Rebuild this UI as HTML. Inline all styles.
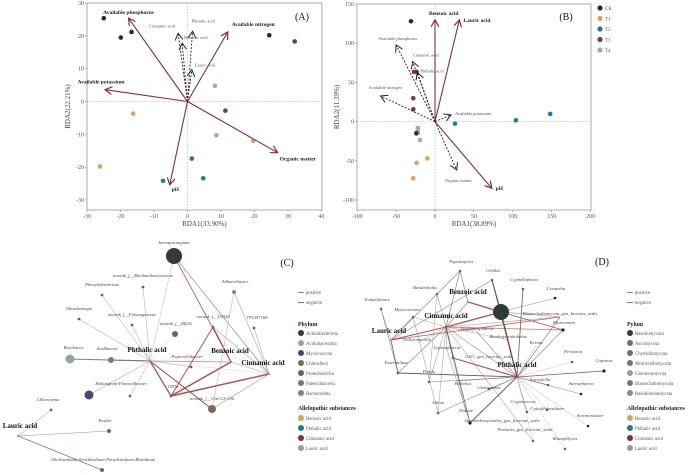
<!DOCTYPE html>
<html><head><meta charset="utf-8"><style>
html,body{margin:0;padding:0;background:#fff;}
svg{display:block;font-family:"Liberation Serif",serif;}
</style></head><body>
<svg id="fig" width="692" height="475" viewBox="0 0 692 475">
<defs>
<marker id="arR" markerWidth="8" markerHeight="8" refX="7" refY="4" orient="auto" markerUnits="userSpaceOnUse"><path d="M0,0 L7,4 L0,8" fill="none" stroke="#8b2a3a" stroke-width="1.2"/></marker>
<marker id="arK" markerWidth="8" markerHeight="8" refX="7" refY="4" orient="auto" markerUnits="userSpaceOnUse"><path d="M0,0 L7,4 L0,8" fill="none" stroke="#222" stroke-width="1"/></marker>
</defs>
<g id="gA"></g>
<g id="gB"></g>
<g id="gC"></g>
<g id="gD"></g>
</svg>
<script>
// ---------- Panel A data ----------
const aXTicks=[-30,-20,-10,0,10,20,30,40];
const aYTicks=[-30,-20,-10,0,10,20,30];
const aPtX=[-25,-19.9,-16.7,24.4,32,8.2,11.3,-16.2,8.6,19.6,-26.1,1.3,-7.3,4.7];
const aPtY=[25.4,19.5,21.2,20.2,18.3,4.8,-2.8,-3.7,-10.3,-12,-19.8,-17.4,-24.2,-23.4];
const aPtG=["CK","CK","CK","CK","T3","T4","T3","T1","T4","T1","T1","T2","T2","T2"];
const aEnvNames=["Available phosphorus","Available nitrogen","Available potassium","Organic matter","pH"];
const aEnvX=[-17.6,12,-24.6,26.9,-5.3];
const aEnvY=[25.4,21.2,3.6,-15.6,-25.4];
const aAcidNames=["Cinnamic acid","Phthalic acid","Benzoic acid","Lauric acid"];
const aAcidX=[-2.8,1.5,-1.6,1.3];
const aAcidY=[20.8,21.4,17.8,9.7];
// ---------- Panel B data ----------
const bXTicks=[-100,-50,0,50,100,150,200];
const bYTicks=[-100,-50,0,50,100,150];
const bPtX=[-30.9,-27,-23.6,-27.9,-27.9,25.7,104,148,-22,-22,-22,-24,-19.3,-9.9,-23.6,-27.9];
const bPtY=[128,63.4,63.4,29.8,15.7,-2.6,1.7,9.8,-8,-11,-14,-15,-23.4,-47,-52.7,-72.3];
const bPtG=["CK","T3","T3","T3","T3","T2","T2","T2","T4","T4","T4","CK","T4","T1","T1","T1"];
const bAcidNames=["Benzoic acid","Lauric acid","pH"];
const bAcidX=[0,31.3,72.9];
const bAcidY=[129.7,129.7,-85];
const bEnvNames=["Available phosphorus","Cinnamic acid","Phthalic acid","Available nitrogen","Available potassium","Organic matter"];
const bEnvX=[-50,-28.7,-22.7,-70,20.6,27.9];
const bEnvY=[97.8,76.5,62.5,32.7,8.5,-61.7];
const groups=["CK","T1","T2","T3","T4"];
const groupColors=["#2b2b2b","#d9a35f","#1f7a9e","#7a3b3b","#9fb0a0"];

const NS="http://www.w3.org/2000/svg";
function mk(parent,tag,attrs,text){const e=document.createElementNS(NS,tag);for(const k in attrs)e.setAttribute(k,attrs[k]);if(text!==undefined)e.textContent=text;parent.appendChild(e);return e;}
function gcol(g){return groupColors[groups.indexOf(g)];}

const xA=v=>187.5+v*3.35, yA=v=>101.5-v*3.28;
const xB=v=>435+v*0.778, yB=v=>121.6-v*0.784;

function drawFrame(g,x0,y0,x1,y1,xs,ys,xt,yt,xf,yf,xlab,ylab,ylx,panel){
  let r=mk(g,'rect',{x:x0,y:y0,width:x1-x0,height:y1-y0,fill:'none',stroke:'#888','stroke-width':0.7});
  
  
  let h=mk(g,'line',{x1:x0,x2:x1,y1:yf(0),y2:yf(0),stroke:'#999','stroke-width':0.5,'stroke-dasharray':'1.5,1.5'});
  
  
  let v=mk(g,'line',{x1:xf(0),x2:xf(0),y1:y0,y2:y1,stroke:'#999','stroke-width':0.5,'stroke-dasharray':'1.5,1.5'});
  
  
  xt.forEach(t=>{const X=xf(t);mk(g,'line',{x1:X,x2:X,y1:y1,y2:y1+2,stroke:'#888','stroke-width':0.6});
    let tl=mk(g,'text',{x:X,y:y1+8,'font-size':6,fill:'#555','text-anchor':'middle'},String(t));
    
    });
  yt.forEach(t=>{const Y=yf(t);mk(g,'line',{x1:x0-2,x2:x0,y1:Y,y2:Y,stroke:'#888','stroke-width':0.6});
    let tl=mk(g,'text',{x:x0-3,y:Y+2,'font-size':6,fill:'#555','text-anchor':'end'},String(t));
    
    });
  let xl=mk(g,'text',{x:(x0+x1)/2,y:y1+16,'font-size':7,fill:'#444','text-anchor':'middle'},xlab);
  
  
  let yl=mk(g,'text',{x:ylx,y:(y0+y1)/2,'font-size':7,fill:'#444','text-anchor':'middle',transform:`rotate(-90 ${ylx} ${(y0+y1)/2})`},ylab);
  
  
}
function arrow(g,x1,y1,x2,y2,dashed,name){
  const l=mk(g,'line',{x1,y1,x2,y2,stroke:dashed?'#222':'#8b2a3a','stroke-width':dashed?0.9:1.1,'stroke-dasharray':dashed?'2,1.5':'none','marker-end':dashed?'url(#arK)':'url(#arR)'});
  
  
}
(function(){
  const g=document.getElementById('gA');
  drawFrame(g,87,3,322,210,0,0,aXTicks,aYTicks,xA,yA,'RDA1(33.90%)','RDA2(22.21%)',70);
  aPtX.forEach((v,i)=>{const c=mk(g,'circle',{cx:xA(v),cy:yA(aPtY[i]),r:2.3,fill:gcol(aPtG[i])});
    
    });
  const lab=[[0,-4,'middle'],[4,-6,'start'],[-4,-6,'middle'],[2,8,'start'],[2,6,'start']];
  aEnvNames.forEach((n,i)=>{arrow(g,xA(0),yA(0),xA(aEnvX[i]),yA(aEnvY[i]),false,'env-arrow');
    const t=mk(g,'text',{x:xA(aEnvX[i])+lab[i][0],y:yA(aEnvY[i])+lab[i][1],'font-size':5.5,'font-weight':'bold',fill:'#222','text-anchor':lab[i][2]},n);
    
    });
  const al=[[-3,-6,'end'],[-1,-9,'start'],[2,-4,'start'],[3,-3,'start']];
  aAcidNames.forEach((n,i)=>{arrow(g,xA(0),yA(0),xA(aAcidX[i]),yA(aAcidY[i]),true,'acid-arrow');
    const t=mk(g,'text',{x:xA(aAcidX[i])+al[i][0],y:yA(aAcidY[i])+al[i][1],'font-size':4.5,fill:'#555','text-anchor':al[i][2]},n);
    
    });
  const p=mk(g,'text',{x:302,y:20,'font-size':10,fill:'#111','text-anchor':'middle'},'(A)');
  
  
})();
(function(){
  const g=document.getElementById('gB');
  drawFrame(g,357,4,591,210,0,0,bXTicks,bYTicks,xB,yB,'RDA1(38.89%)','RDA2(11.39%)',339);
  bPtX.forEach((v,i)=>{const c=mk(g,'circle',{cx:xB(v),cy:yB(bPtY[i]),r:2.3,fill:gcol(bPtG[i])});
    
    });
  const lab=[[-6,-5,'start'],[4,2,'start'],[4,2,'start']];
  bAcidNames.forEach((n,i)=>{arrow(g,xB(0),yB(0),xB(bAcidX[i]),yB(bAcidY[i]),false,'acid-arrow');
    const t=mk(g,'text',{x:xB(bAcidX[i])+lab[i][0],y:yB(bAcidY[i])+lab[i][1],'font-size':5.5,'font-weight':'bold',fill:'#222','text-anchor':lab[i][2]},n);
    
    });
  const el=[[-18,-5,'start'],[0,-5,'start'],[3,0,'start'],[-12,-7,'start'],[4,0,'start'],[-12,12,'start']];
  bEnvNames.forEach((n,i)=>{arrow(g,xB(0),yB(0),xB(bEnvX[i]),yB(bEnvY[i]),true,'env-arrow');
    const t=mk(g,'text',{x:xB(bEnvX[i])+el[i][0],y:yB(bEnvY[i])+el[i][1],'font-size':4.5,fill:'#555','text-anchor':el[i][2]},n);
    
    });
  groups.forEach((n,i)=>{const c=mk(g,'circle',{cx:600,cy:8+i*10.5,r:2.6,fill:groupColors[i]});
    
    
    const t=mk(g,'text',{x:605,y:10+i*10.5,'font-size':5,fill:'#555'},n);
    
    });
  const p=mk(g,'text',{x:566,y:20,'font-size':10,fill:'#111','text-anchor':'middle'},'(B)');
  
  
})();
const cNodes=[
["Intrasporangium",174,256,8,"#2f3a3a",0,-12,0],
["Phthalic acid",150,361,1,"#888",-3,-9,1],
["Benzoic acid",231,362,1,"#888",-1,-9,1],
["Cinnamic acid",269,374,1,"#888",-6,-9,1],
["Lauric acid",18,436,1,"#888",2,-8,1],
["Bryobacter",70,359,4.5,"#8fa89a",4,-10,0],
["Acidibacter",111,360,3,"#8a7a60",-4,-10,0],
["Haliangium-Flavisolibacter",89,395,4.5,"#4a4676",32,-10,0],
["norank_f__Rhodanobacteraceae",143,287,1.4,"#666",0,-10,0],
["Phenylobacterium",102,295,1.4,"#666",0,-9,0],
["Ohtaekwangia",79,319,1.4,"#666",0,-9,0],
["norank_f__Polyangiaceae",132,325,1.4,"#666",0,-9,0],
["norank_f__Blfi41",175,334,3,"#666",1,-9,0],
["norank_f__LWQ8",213,327,1.4,"#666",0,-9,0],
["Adhaeribacter",234,292,2,"#888",1,-9,0],
["TFCH7168",254,328,1.4,"#666",3,-9,0],
["Pajaroellobacter",191,367,1.4,"#666",-4,-9,0],
["TM7a",171,396,1.4,"#666",2,-8,0],
["",130,396,1.4,"#666",0,0,0],
["norank_f__Gitt-GS-136",212,409,4,"#7a6a5a",0,-9,0],
["Chloronema",51,410,1.4,"#666",-3,-9,0],
["Ensifer",109,431,2,"#666",-4,-9,0],
["Allorhizobium-Neorhizobium-Pararhizobium-Rhizobium",102,470,2,"#666",1,-9,0]];
const cEdges=[[1,5,"#666",1],[1,6,"#777",1],[1,7,"#8a9",0.6],[1,8,"#aaa",0.6],[1,9,"#aaa",0.6],[1,10,"#aaa",0.6],[1,11,"#aaa",0.6],[1,0,"#bbb",0.6],[1,16,"#aaa",0.6],[1,18,"#aaa",0.6],[1,3,"#bdd",0.6],[1,17,"#a33",1.3],[1,19,"#733",1],[1,12,"#bbb",0.5],
[0,2,"#b44",0.9],[0,3,"#888",0.8],[2,17,"#a33",1.5],[1,2,"#c66",0.8],[13,2,"#a33",1],[13,17,"#a33",1],[17,3,"#a33",1.5],[13,3,"#999",0.6],[14,3,"#999",0.6],[14,19,"#aaa",0.6],[15,3,"#999",0.6],[3,19,"#999",0.7],[2,3,"#c77",0.5],
[4,20,"#aaa",0.6],[4,21,"#b66",0.6],[4,22,"#7a5a5a",0.8]];
const cPhyla=["Actinobacteriota","Acidobacteriota","Myxococcota","Chloroflexi","Proteobacteria","Patescibacteria","Bacteroidota"];
const cPhylaCol=["#2f3a3a","#8fa89a","#4a4676","#6e6e64","#6f6260","#7e7278","#8a8080"];
const acidLeg=["Benzoic acid","Phthalic acid","Cinnamic acid","Lauric acid"];
const acidLegCol=["#d9a35f","#1f7a9e","#8b2a3a","#9a9a9a"];
const dNodes=[
["",501,312,8,"#2f3a3a",0,0,0],
["Cinnamic acid",446,327,1,"#a33",0,-9,1],
["Benzoic acid",468,302,1,"#888",0,-8,1],
["Lauric acid",391,340,1,"#888",-2,-7,1],
["Phthalic acid",517,377,1,"#a33",0,-10,1],
["Papulaspora",460,271,1.3,"#666",1,-8,0],
["Orbilia",492,280,1.3,"#666",1,-8,0],
["Cyphellophora",523,289,1.3,"#666",1,-8,0],
["Ceratobia",555,298,1.3,"#222",1,-8,0],
["Basidiobolus",437,294,1.3,"#666",-12,-5,0],
["Fumeliformis",381,309,1.3,"#666",-4,-8,0],
["Myriococcum",413,317,1.3,"#666",-6,-6,0],
["Blastocladiomycota_gen_Incertae_sedis",560,317,0.1,"#666",0,-2,0],
["Rhizoctonia",563,330,1.6,"#222",1,-6,0],
["Stephanosphaeria",477,332,0.1,"#666",0,-2,0],
["Rhodosporidiobolus",508,340,0.1,"#666",0,-2,0],
["Dohytomycella",417,343,0.1,"#666",0,-2,0],
["Kernia",536,346,0.1,"#666",0,-2,0],
["Leptosphaeria",447,350,0.1,"#666",0,-1,0],
["GS11_gen_Incertae_sedis",453,358,1.3,"#666",36,0,0],
["Periconia",572,362,1.3,"#666",1,-9,0],
["Coprinus",604,371,1.6,"#222",0,-9,0],
["Exserohilum",398,373,1.3,"#666",-2,-9,0],
["Podila",429,382,1.3,"#666",0,-9,0],
["Auriculella",548,385,1.3,"#666",-8,-4,0],
["Aureophaeria",581,394,1.3,"#222",0,-9,0],
["Bolbitius",457,381,0.1,"#666",6,4,0],
["Chaetomium",489,389,1.3,"#666",0,0,0],
["Allioia",438,413,1.3,"#666",0,-9,0],
["Cryptococcus",527,412,1.3,"#666",-4,-9,0],
["Cystofilobasidium",547,410,1.3,"#666",0,0,0],
["Acremoniaster",588,426,1.3,"#222",2,-9,0],
["Elsinoe",466,413,0.1,"#666",0,-1,0],
["Sporobolomycetales_gen_Incertae_sedis",470,423,1.6,"#222",32,-1,0],
["Pezizales_gen_Incertae_sedis",533,441,1.3,"#666",-8,-10,0],
["Rhizophlyctis",565,449,1.3,"#666",0,-9,0]];
const dEdges=[[1,3,"#a33",1],[1,0,"#a33",1.4],[1,2,"#777",0.7],[1,5,"#777",0.7],[1,9,"#888",0.6],[1,11,"#999",0.6],[1,13,"#c55",0.8],[1,12,"#c77",0.6],[1,14,"#999",0.5],[1,15,"#aaa",0.5],[1,18,"#888",0.5],[1,19,"#733",0.8],[1,22,"#777",0.7],[1,23,"#999",0.6],[1,28,"#999",0.6],[1,32,"#888",0.6],[1,33,"#555",0.8],[1,34,"#999",0.6],[1,4,"#c66",0.6],[1,16,"#c88",0.5],
[2,0,"#a33",1.4],[6,0,"#733",1],[6,4,"#555",0.9],[7,4,"#555",0.9],[0,4,"#733",1.2],[0,8,"#888",0.6],[0,13,"#a33",0.8],[0,12,"#888",0.6],[5,3,"#777",0.7],[5,2,"#777",0.7],[6,3,"#777",0.7],[3,10,"#999",0.6],[3,22,"#555",0.8],[3,12,"#b44",0.8],[3,11,"#888",0.6],
[4,13,"#777",0.7],[4,12,"#777",0.7],[4,20,"#bbb",0.5],[4,21,"#733",0.8],[4,22,"#444",0.9],[4,23,"#777",0.6],[4,24,"#a33",0.6],[4,25,"#a66",0.6],[4,19,"#a33",1.1],[4,26,"#a66",0.6],[4,27,"#a77",0.6],[4,28,"#777",0.6],[4,29,"#a66",0.6],[4,30,"#aaa",0.5],[4,31,"#aaa",0.5],[4,33,"#444",1],[4,34,"#bbb",0.5],[4,35,"#bbb",0.5],[4,17,"#999",0.5],[4,14,"#777",0.6],[10,22,"#777",0.6],[9,23,"#999",0.6],[11,28,"#999",0.6],[18,33,"#999",0.6]];
const dPhyla=["Basidiomycota","Ascomycota","Chytridiomycota","Mortierellomycota","Glomeromycota","Blastocladiomycota","Basidiobolomycota"];
const dPhylaCol=["#2f3a3a","#6a6a80","#6e6e6a","#7a7470","#9a9a9a","#777","#8a8a8a"];

function drawNet(gid,nodes,edges,panel,px,py,lx,phTitle,phyla,phCol){
  const g=document.getElementById(gid);
  edges.forEach(e=>{const a=nodes[e[0]],b=nodes[e[1]];
    const l=mk(g,'line',{x1:a[1],y1:a[2],x2:b[1],y2:b[2],stroke:e[2],'stroke-width':e[3],'stroke-opacity':0.85});
    
    });
  nodes.forEach(n=>{
    if(n[3]>0.5){const c=mk(g,'circle',{cx:n[1],cy:n[2],r:n[3],fill:n[4]});
      
      }
    if(n[0]){const bold=n[7]===1;
      const t=mk(g,'text',{x:n[1]+n[5],y:n[2]+n[6],'font-size':bold?7:4.6,'font-weight':bold?'bold':'normal','font-style':bold?'normal':'italic',fill:bold?'#111':'#444','text-anchor':'middle'},n[0]);
      
      }
  });
  const p=mk(g,'text',{x:px,y:py,'font-size':10,fill:'#111','text-anchor':'middle'},panel);
  
  
  const y0=294;
  [["positive","#666"],["negative","#a33"]].forEach((s,i)=>{
    const l=mk(g,'line',{x1:lx,x2:lx+6,y1:y0+i*10-1.5,y2:y0+i*10-1.5,stroke:s[1],'stroke-width':0.8});
    
    
    const t=mk(g,'text',{x:lx+8,y:y0+i*10,'font-size':4.8,fill:'#555'},s[0]);
    
    });
  const h=mk(g,'text',{x:lx,y:326,'font-size':5.8,'font-weight':'bold',fill:'#222'},phTitle);
  
  
  phyla.forEach((n,i)=>{const c=mk(g,'circle',{cx:lx+3,cy:333+i*10,r:3,fill:phCol[i]});
    
    
    const t=mk(g,'text',{x:lx+8,y:335+i*10,'font-size':4.8,fill:'#555'},n);
    
    });
  const h2=mk(g,'text',{x:lx,y:410,'font-size':5.8,'font-weight':'bold',fill:'#222'},'Allelopathic substances');
  
  
  acidLeg.forEach((n,i)=>{const c=mk(g,'circle',{cx:lx+3,cy:418+i*10,r:3,fill:acidLegCol[i]});
    
    
    const t=mk(g,'text',{x:lx+8,y:420+i*10,'font-size':4.8,fill:'#555'},n);
    
    });
}
drawNet('gC',cNodes,cEdges,'(C)',287,266,298,'Phylum',cPhyla,cPhylaCol);
drawNet('gD',dNodes,dEdges,'(D)',602,265,627,'Pylum',dPhyla,dPhylaCol);
</script>
</body></html>
